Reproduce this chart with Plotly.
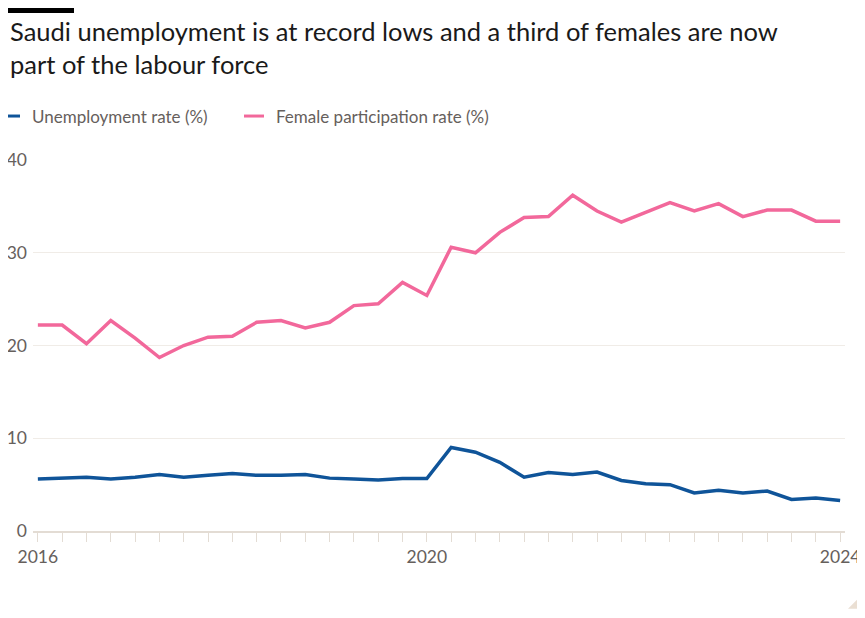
# Saudi labour market chart (FT style)
import plotly.graph_objects as go

quarters = [f"{y} Q{q}" for y in range(2016, 2025) for q in range(1, 5)][:34]

unemployment = [5.6, 5.7, 5.8, 5.6, 5.8, 6.1, 5.8, 6.0, 6.2, 6.0, 6.0, 6.1,
                5.7, 5.6, 5.5, 5.65, 5.65, 9.0, 8.5, 7.4, 5.8, 6.3, 6.1, 6.35,
                5.45, 5.1, 5.0, 4.1, 4.4, 4.1, 4.3, 3.4, 3.55, 3.3]

female_participation = [22.2, 22.2, 20.2, 22.7, 20.8, 18.7, 20.0, 20.9, 21.0, 22.5,
                        22.7, 21.9, 22.5, 24.3, 24.5, 26.8, 25.4, 30.6, 30.0, 32.2,
                        33.8, 33.9, 36.2, 34.5, 33.3, 34.4, 35.4, 34.5, 35.3, 33.9,
                        34.6, 34.6, 33.4, 33.4]

series_names = ["Unemployment rate (%)", "Female participation rate (%)"]
colors = ["#0f5499", "#f2689b"]

year_labels = {"2016 Q1": "2016", "2020 Q1": "2020", "2024 Q2": "2024"}
y_ticks = [0, 10, 20, 30, 40]
title_text = "Saudi unemployment is at record lows and a third of females are now<br>part of the labour force"

# the page body has an 8px margin, so the figure is shifted by that much
OFF = 8
W, H = 857, 618 - 2 * OFF
ML, MR, MT = 25, 20, 152
MB = H - (531.3 - OFF)
pw = W - ML - MR
ph = H - MT - MB

def px_x(x):
    # x in window pixels -> paper coords
    return (x - OFF - ML) / pw

def px_y(y):
    return (H - MB - (y - OFF)) / ph

fig = go.Figure()
for name, vals, col in zip(series_names, [unemployment, female_participation], colors):
    fig.add_trace(go.Scatter(x=list(range(len(quarters))), y=vals, name=name,
                             mode="lines", line=dict(color=col, width=3.5),
                             showlegend=False))

grey = "#66605c"
beige = "#e3dcd4"
font = "Lato, Noto Sans, sans-serif"

fig.update_layout(
    width=W, height=H,
    margin=dict(l=ML, r=MR, t=MT, b=MB),
    paper_bgcolor="white", plot_bgcolor="white",
    font=dict(family=font, color=grey),
)

fig.update_xaxes(
    range=[-0.2, len(quarters) - 0.8],
    tickvals=list(range(len(quarters))),
    ticktext=[year_labels.get(q, "") for q in quarters],
    ticks="outside", ticklen=9, tickcolor=beige, tickwidth=1.2,
    showline=True, linecolor=beige, linewidth=1.5,
    showgrid=False, zeroline=False, automargin=False,
    ticklabeloverflow="allow",
    tickfont=dict(size=17.5, color=grey),
)
fig.update_yaxes(
    range=[0, 40], tickvals=y_ticks,
    showgrid=True, gridcolor="#f0ece7", gridwidth=1.2,
    zeroline=False, showline=False, ticks="", automargin=False,
    tickfont=dict(size=17.5, color=grey), ticklabelstandoff=5,
)

# title as annotation (two lines)
fig.add_annotation(xref="paper", yref="paper", x=px_x(OFF), y=px_y(47),
                   text=title_text, showarrow=False, align="left",
                   xanchor="left", yanchor="middle",
                   font=dict(size=25.5, color="#1a1a1a", family=font))

# FT style top bar
fig.add_shape(type="rect", xref="paper", yref="paper",
              x0=px_x(0), x1=px_x(74), y0=px_y(13), y1=px_y(8),
              fillcolor="black", line_width=0)

# manual legend
legend_x = [0, 244]
for (lx, name, col) in zip(legend_x, series_names, colors):
    fig.add_shape(type="line", xref="paper", yref="paper",
                  x0=px_x(lx), x1=px_x(lx + 20), y0=px_y(116), y1=px_y(116),
                  line=dict(color=col, width=3))
    fig.add_annotation(xref="paper", yref="paper", x=px_x(lx + 30), y=px_y(116),
                       text=name, showarrow=False, xanchor="left", yanchor="middle",
                       font=dict(size=17, color=grey))

# corner mark
fig.add_shape(type="path", xref="paper", yref="paper",
              path=f"M {px_x(848)} {px_y(609)} L {px_x(858)} {px_y(609)} L {px_x(858)} {px_y(599)} Z",
              fillcolor="#eadfd3", line_width=0)

fig.write_html("out.html")
